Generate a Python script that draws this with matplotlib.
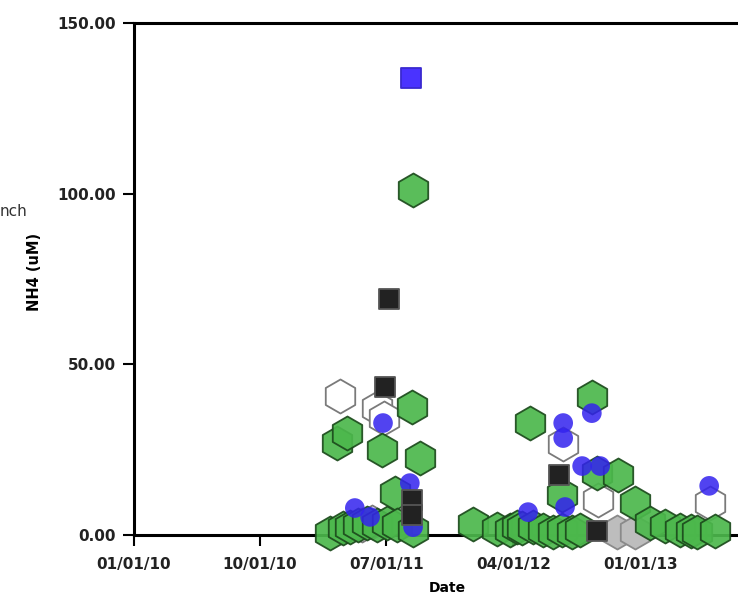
import matplotlib
matplotlib.use("Agg")
import matplotlib.pyplot as plt
import matplotlib.dates as mdates
import pandas as pd

# --- data ---
blue_sq_dates = ["2011-08-24"]
blue_sq_vals = [133.9]

blue_circ_dates = ["2011-06-24", "2011-08-21", "2011-08-28", "2011-05-27", "2011-04-24",
                   "2012-07-18", "2012-07-18", "2012-09-18", "2012-08-28", "2012-10-06",
                   "2012-07-22", "2012-05-03", "2013-05-30"]
blue_circ_vals = [32.8, 15.2, 2.3, 5.3, 7.9,
                  32.8, 28.4, 35.7, 20.2, 20.2,
                  8.2, 6.7, 14.4]

black_sq_dates = ["2011-07-07", "2011-06-28", "2011-08-26", "2011-08-26", "2012-07-09", "2012-09-29"]
black_sq_vals = [69.1, 43.4, 10.3, 5.9, 17.6, 1.2]

white_hex_dates = ["2011-03-23", "2011-06-11", "2011-06-26", "2011-05-10", "2011-05-31",
                   "2012-07-18", "2012-10-01", "2013-06-01"]
white_hex_vals = [40.7, 37.2, 34.3, 2.9, 3.8, 26.7, 10.3, 9.4]

grey_hex_dates = ["2012-11-11", "2012-12-20"]
grey_hex_vals = [0.9, 0.9]

green_hex_dates = ["2011-03-01", "2011-03-16", "2011-04-07", "2011-03-29", "2011-04-14",
                   "2011-05-01", "2011-05-20", "2011-06-11", "2011-06-22", "2011-07-03",
                   "2011-07-20", "2011-07-24", "2011-08-26", "2011-08-28", "2011-09-12",
                   "2011-08-28",
                   "2012-01-05", "2012-02-26", "2012-03-25", "2012-04-09", "2012-04-20",
                   "2012-05-07", "2012-05-14", "2012-06-04", "2012-06-26", "2012-07-15",
                   "2012-07-15", "2012-08-06", "2012-08-23", "2012-09-18", "2012-09-29",
                   "2012-11-14", "2012-12-20", "2013-01-22", "2013-02-24", "2013-03-28",
                   "2013-04-20", "2013-05-04", "2013-06-12"]
green_hex_vals = [0.6, 27.0, 29.9, 2.0, 2.3,
                  2.9, 3.5, 2.9, 24.9, 3.5,
                  12.3, 2.9, 37.5, 101.1, 22.6,
                  1.5,
                  3.2, 1.8, 1.5, 2.3, 2.0,
                  32.8, 2.3, 1.5, 0.9, 11.7,
                  1.5, 0.9, 1.5, 40.4, 18.2,
                  17.6, 9.4, 3.5, 2.6, 1.5,
                  1.2, 0.9, 1.2]

x_ticks = ["2010-01-01", "2010-10-01", "2011-07-01", "2012-04-01", "2013-01-01"]
y_ticks = [0, 50, 100, 150]
x_range = ["2010-01-01", "2013-09-17"]


def d(lst):
    return pd.to_datetime(lst)


fig = plt.figure(figsize=(7.38, 5.97), dpi=100)
# axes runs a little past the right edge of the figure, as in the original crop
ax = fig.add_axes([134 / 738, 62 / 597, (760 - 134) / 738, 512 / 597])

hex_s = 600
sq_s = 220
common = dict(clip_on=False, linewidths=1.3)
ax.scatter(d(grey_hex_dates), grey_hex_vals, marker="h", s=hex_s, facecolor="#bdbdbd",
           edgecolor="#8a8a8a", zorder=3, **common)
ax.scatter(d(white_hex_dates), white_hex_vals, marker="h", s=hex_s, facecolor="white",
           edgecolor="#7a7a7a", zorder=3.1, **common)
ax.scatter(d(green_hex_dates), green_hex_vals, marker="h", s=hex_s, facecolor="#4cb84c",
           edgecolor="#1c4a1c", alpha=0.92, zorder=3.2, **common)
ax.scatter(d(blue_circ_dates), blue_circ_vals, marker="o", s=200, facecolor="#3322ee",
           edgecolor="none", alpha=0.85, zorder=3.3, clip_on=False)
ax.scatter(d(black_sq_dates), black_sq_vals, marker="s", s=sq_s, facecolor="#222222",
           edgecolor="#555555", zorder=3.4, **common)
ax.scatter(d(blue_sq_dates), blue_sq_vals, marker="s", s=sq_s, facecolor="#4a33ff",
           edgecolor="#3a2ad0", zorder=3.5, **common)

ax.set_xlim(d(x_range))
ax.set_ylim(0, 150)
ax.set_xticks(d(x_ticks))
ax.xaxis.set_major_formatter(mdates.DateFormatter("%m/%d/%y"))
ax.set_yticks(y_ticks)
ax.set_yticklabels([f"{v:.2f}" for v in y_ticks])

for side in ("left", "bottom", "top"):
    ax.spines[side].set_linewidth(2.2)
    ax.spines[side].set_color("black")
ax.spines["right"].set_visible(False)
ax.tick_params(direction="out", length=8, width=1.5, colors="black", pad=5)
ax.tick_params(axis="x", pad=8)
for lab in ax.get_xticklabels() + ax.get_yticklabels():
    lab.set_fontsize(11)
    lab.set_fontweight("bold")
    lab.set_color("#222222")

ax.set_ylabel("NH4 (uM)", fontsize=10.5, fontweight="bold")
ax.yaxis.set_label_coords((42 - 134) / 626, (535 - 272) / 512)
ax.set_xlabel("Date", fontsize=10, fontweight="bold")
ax.xaxis.set_label_coords((447 - 134) / 626, -(581 - 535) / 512)

fig.text(0.0, 1 - 211 / 597, "nch", fontsize=11, color="#333333", ha="left", va="center")

fig.savefig("out.png", dpi=100, facecolor="white")
